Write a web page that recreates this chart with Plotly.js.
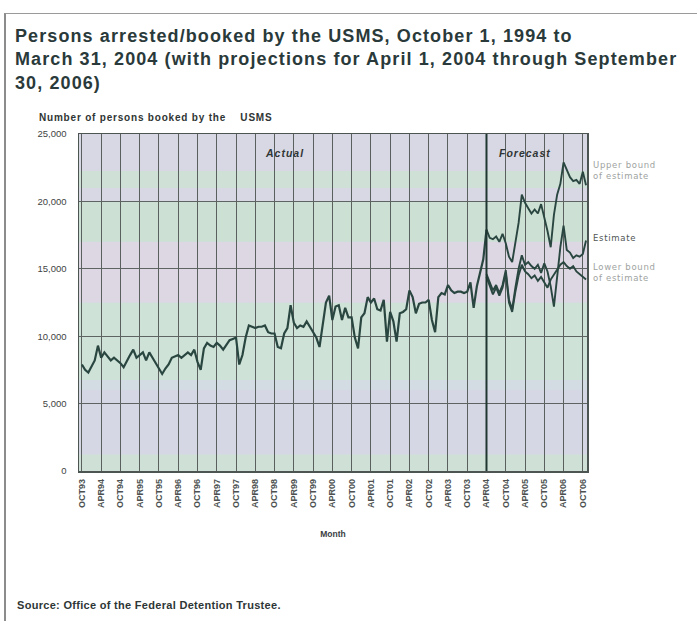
<!DOCTYPE html>
<html><head><meta charset="utf-8">
<script src="https://cdn.plot.ly/plotly-3.0.1.min.js"></script>
<style>
html,body{margin:0;padding:0;background:#fff;}
#wrap{position:relative;width:697px;height:621px;overflow:hidden;}
#frame{position:absolute;left:4px;top:13px;width:700px;height:620px;border-left:2px solid #8c8c8c;border-top:1.5px solid #9a9a9a;pointer-events:none;}
.gtitle{letter-spacing:1.1px;}
</style>
</head><body>
<div id="wrap"><div id="chart"></div><div id="frame"></div></div>
<script>
// Tick labels (every 6 months, starting October 1993)
const tickLabels = ['OCT93','APR94','OCT94','APR95','OCT95','APR96','OCT96','APR97','OCT97','APR98',
  'OCT98','APR99','OCT99','APR00','OCT00','APR01','OCT01','APR02','OCT02','APR03','OCT03','APR04',
  'OCT04','APR05','OCT05','APR06','OCT06'];

// Actual monthly bookings, Oct 1993 .. Apr 2004
const actual = [
  7900,7500,7300,7700,8200,9300,8400,8800,8500,8200,
  8400,8200,8000,7700,8200,8600,9000,8400,8600,8800,
  8200,8800,8400,8000,7600,7200,7600,7900,8400,8500,
  8600,8400,8600,8800,8600,9000,8100,7500,9100,9500,
  9300,9200,9500,9300,9000,9400,9700,9800,9900,7900,
  8600,9900,10800,10700,10600,10700,10700,10800,10300,10200,
  10200,9200,9100,10200,10600,12300,11000,10600,10800,10700,
  11100,10700,10300,9900,9200,11000,12500,13000,11200,12200,
  12300,11200,12100,11400,11400,9900,9100,11400,11700,12900,
  12500,12800,12000,11900,12700,9600,11800,11100,9600,11700,
  11800,12000,13400,12900,11700,12400,12500,12500,12700,11200,
  10300,12900,13200,13100,13800,13400,13200,13300,13300,13200,
  13300,14000,12100,13700,14700,15700,17900];

// Forecast series, starting Apr 2004 (month index 126)
const forecastStart = 126;
const upperBound = [
  17900,17300,17200,17400,17000,17600,16900,15900,15500,17000,
  18400,20500,19900,19500,19100,19400,19100,19800,18900,17800,
  16600,19000,20500,21300,22900,22300,21800,21500,21600,21300,
  22200,21200];
const estimate = [
  14600,14000,13400,13800,13200,13800,14900,12700,12000,13600,
  15000,16000,15300,15500,15200,15000,15300,14700,15400,14800,
  13700,12200,14500,16600,18200,16400,16200,15800,16000,15900,
  16100,17100];
const lowerBound = [
  14400,13700,13100,13600,13000,13600,14700,12500,11800,13300,
  14500,15300,14800,14600,14300,14500,14100,14400,14000,13600,
  14200,14600,14900,15300,15500,15200,15000,15200,14800,14600,
  14400,14200];

const yTicks = [0,5000,10000,15000,20000,25000];

const actualX = actual.map((_, i) => i);
const fcX = upperBound.map((_, i) => forecastStart + i);
const tickVals = tickLabels.map((_, i) => i * 6);

const lineCol = '#2a4640';
const traces = [
  {x: actualX, y: actual, mode: 'lines', line: {color: lineCol, width: 2.2}, name: 'Actual'},
  {x: fcX, y: upperBound, mode: 'lines', line: {color: lineCol, width: 1.9}, name: 'Upper bound of estimate'},
  {x: fcX, y: estimate, mode: 'lines', line: {color: lineCol, width: 1.9}, name: 'Estimate'},
  {x: fcX, y: lowerBound, mode: 'lines', line: {color: lineCol, width: 1.9}, name: 'Lower bound of estimate'}
];

// decorative background bands (paper y fractions)
const bands = [
  [0.00, 0.05, '#cfe1d6'], [0.05, 0.24, '#d6d7e5'], [0.24, 0.27, '#d3dbe3'],
  [0.27, 0.50, '#cfe2d7'], [0.50, 0.68, '#dcd7e2'], [0.68, 0.80, '#cde0d4'],
  [0.80, 0.84, '#d8d8e5'], [0.84, 0.89, '#cfe0d6'], [0.89, 1.00, '#d7d8e4']
];
const shapes = bands.map(b => ({type: 'rect', xref: 'paper', yref: 'paper', x0: 0, x1: 1, y0: b[0], y1: b[1],
  fillcolor: b[2], line: {width: 0}, layer: 'below'}));
shapes.push({type: 'line', xref: 'x', yref: 'paper', x0: forecastStart, x1: forecastStart, y0: 0, y1: 1,
  line: {color: '#1f3631', width: 2}});

const sp = (t, ls) => '<span style="letter-spacing:' + ls + 'px">' + t + '</span>';
const small = {family: 'DejaVu Sans, sans-serif', size: 8.5, color: '#9ea3a1'};
const annotations = [
  {text: sp('Number of persons booked by the\u00a0\u00a0\u00a0\u00a0USMS', 0.8), xref: 'paper', yref: 'paper', x: -0.083, y: 1.048,
   xanchor: 'left', yanchor: 'middle', showarrow: false, font: {family: 'Liberation Sans, Arial', size: 10, color: '#2f3534', weight: 700}},
  {text: '<i>' + sp('Actual', 1) + '</i>', xref: 'x', yref: 'y', x: 63, y: 23600, showarrow: false,
   font: {family: 'Liberation Sans, Arial', size: 10.5, color: '#303535', weight: 700}},
  {text: '<i>' + sp('Forecast', 1) + '</i>', xref: 'x', yref: 'y', x: 138, y: 23600, showarrow: false,
   font: {family: 'Liberation Sans, Arial', size: 10.5, color: '#303535', weight: 700}},
  {text: sp('Upper bound', 0.7) + '<br>' + sp('of estimate', 0.7), xref: 'paper', yref: 'y', x: 1.008, y: 22300, xanchor: 'left', align: 'left', showarrow: false, font: small},
  {text: sp('Estimate', 0.7), xref: 'paper', yref: 'y', x: 1.008, y: 17300, xanchor: 'left', align: 'left', showarrow: false,
   font: {family: 'DejaVu Sans, sans-serif', size: 8.5, color: '#505655'}},
  {text: sp('Lower bound', 0.7) + '<br>' + sp('of estimate', 0.7), xref: 'paper', yref: 'y', x: 1.008, y: 14700, xanchor: 'left', align: 'left', showarrow: false, font: small},
  {text: sp('Source: Office of the Federal Detention Trustee.', 0.3), xref: 'paper', yref: 'paper', x: -0.126, y: -0.398,
   xanchor: 'left', yanchor: 'middle', showarrow: false, font: {family: 'Liberation Sans, Arial', size: 11, color: '#2e3636', weight: 700}}
];

const layout = {
  width: 697, height: 621,
  margin: {l: 79, r: 110, t: 134, b: 150},
  paper_bgcolor: '#ffffff', plot_bgcolor: '#d6d8e4',
  showlegend: false,
  title: {text: 'Persons arrested/booked by the USMS, October 1, 1994 to<br>March 31, 2004 (with projections for April 1, 2004 through September<br>30, 2006)',
    x: 15/697, xref: 'container', xanchor: 'left', y: 1 - 42/621, yref: 'container', yanchor: 'top',
    font: {family: 'Liberation Sans, Arial', size: 18, color: '#2a3a3a', weight: 700}},
  xaxis: {range: [-0.9, 157.3], tickmode: 'array', tickvals: tickVals, ticktext: tickLabels, tickangle: -90,
    tickfont: {family: 'Liberation Sans, Arial', size: 9, color: '#4d5251', weight: 700},
    showgrid: true, gridcolor: '#59605e', gridwidth: 1, zeroline: false, ticklabelstandoff: 3,
    showline: true, linecolor: '#4d5553', linewidth: 1.5, mirror: true, ticks: '',
    title: {text: 'Month', font: {family: 'Liberation Sans, Arial', size: 8.5, color: '#3a403f', weight: 700}, standoff: 24}},
  yaxis: {range: [0, 25000], tickmode: 'array', tickvals: yTicks, tickformat: ',',
    tickfont: {family: 'Liberation Sans, Arial', size: 9.5, color: '#3e4443'},
    showgrid: true, gridcolor: '#5d6462', gridwidth: 1, zeroline: false,
    showline: true, linecolor: '#4d5553', linewidth: 1.5, mirror: true, ticks: '', ticklabelstandoff: 9},
  shapes: shapes,
  annotations: annotations
};

Plotly.newPlot('chart', traces, layout, {displayModeBar: false, staticPlot: true});
</script>
</body></html>
